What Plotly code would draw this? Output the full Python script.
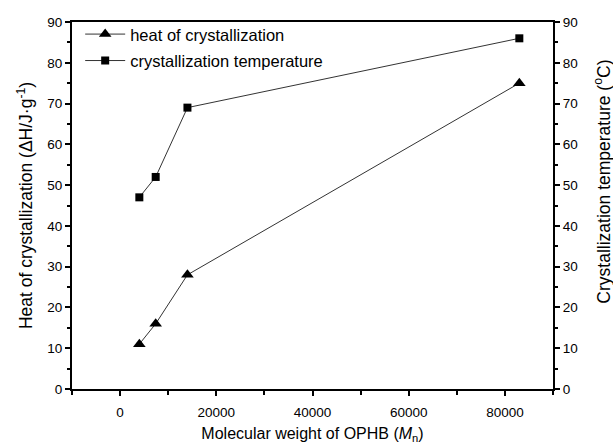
import plotly.graph_objects as go

mol_weight = [4000, 7400, 14000, 83000]
heat_cryst = [11, 16, 28, 75]
cryst_temp = [47, 52, 69, 86]

font = "Liberation Sans, Arial, sans-serif"

fig = go.Figure()
fig.add_trace(go.Scatter(
    x=mol_weight, y=heat_cryst, mode="lines+markers",
    name="heat of crystallization", legendgroup="a",
    line=dict(color="#333333", width=1),
    marker=dict(symbol="triangle-up", size=11, color="black"),
))
fig.add_trace(go.Scatter(
    x=mol_weight, y=cryst_temp, mode="lines+markers",
    name="crystallization temperature", yaxis="y2", legendgroup="b",
    line=dict(color="#333333", width=1),
    marker=dict(symbol="square", size=8, color="black"),
))

axis_common = dict(
    showgrid=False, zeroline=False, showline=True, linecolor="black", linewidth=2,
    ticks="outside", ticklen=5, tickwidth=1.5, tickcolor="black",
    tickfont=dict(family=font, size=13.5, color="black"),
    automargin=False,
)
minor_y = dict(dtick=5, ticks="outside", ticklen=3, tickcolor="black", tickwidth=1.5)

fig.update_layout(
    width=613, height=444,
    margin=dict(l=72, r=60, t=22, b=55),
    paper_bgcolor="white", plot_bgcolor="white",
    showlegend=True,
    legend=dict(x=0.017, y=1.014, xanchor="left", yanchor="top",
                font=dict(family=font, size=16.5, color="black"),
                bgcolor="rgba(0,0,0,0)", traceorder="grouped", tracegroupgap=2,
                itemwidth=40),
    xaxis=dict(
        range=[-10000, 90000], tickvals=[0, 20000, 40000, 60000, 80000],
        tickformat="d", ticklabelstandoff=5,
        minor=dict(tickvals=[-10000, 10000, 30000, 50000, 70000, 90000], ticks="outside", ticklen=4, tickcolor="black", tickwidth=1.5),
        mirror=True,
        title=dict(text="Molecular weight of OPHB (<i>M</i><sub>n</sub>)", font=dict(family=font, size=16, color="black"), standoff=12),
        **axis_common,
    ),
    yaxis=dict(
        range=[0, 90], dtick=10, minor=minor_y,
        title=dict(text="Heat of crystallization (ΔH/J·g<sup>-1</sup>)", font=dict(family=font, size=17.5, color="black"), standoff=10),
        **axis_common,
    ),
    yaxis2=dict(
        range=[0, 90], dtick=10, overlaying="y", side="right", minor=minor_y,
        **axis_common,
    ),
    annotations=[dict(
        text="Crystallization temperature (<sup>o</sup>C)", textangle=-90,
        xref="paper", yref="paper", x=1.0, y=0.565, xanchor="center", yanchor="middle",
        xshift=49, showarrow=False, font=dict(family=font, size=17.5, color="black"),
    )],
)

fig.write_html("out.html")
